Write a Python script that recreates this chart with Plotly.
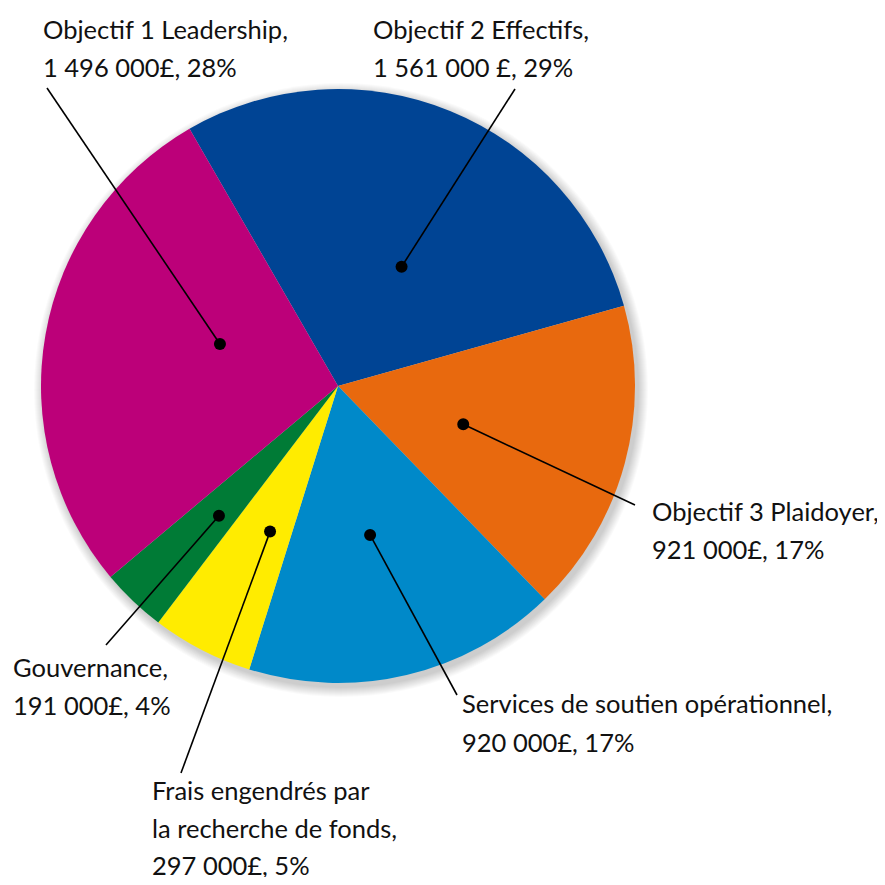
import math
import plotly.graph_objects as go

# ---- data ----
categories = ["Objectif 2 Effectifs", "Objectif 3 Plaidoyer",
              "Services de soutien opérationnel", "Frais engendrés par la recherche de fonds",
              "Gouvernance", "Objectif 1 Leadership"]
values = [1561000, 921000, 920000, 297000, 191000, 1496000]
label_lines = [
    ["Objectif 2 Effectifs,", "1 561 000 £, 29%"],
    ["Objectif 3 Plaidoyer,", "921 000£, 17%"],
    ["Services de soutien opérationnel,", "920 000£, 17%"],
    ["Frais engendrés par", "la recherche de fonds,", "297 000£, 5%"],
    ["Gouvernance,", "191 000£, 4%"],
    ["Objectif 1 Leadership,", "1 496 000£, 28%"],
]

# ---- style / layout (window pixel coordinates) ----
colors = ["#004494", "#E8690E", "#0089C9", "#FFEC00", "#007B36", "#BC0079"]
OFF = 8            # page body margin
FW = FH = 885 - 2 * OFF
CX, CY, R = 338.0, 386.0, 297.0
ROTATION = -30.0
dot_angle_offset = [5.9, 1.9, 1.2, -2.3, -1.1, 9.6]
dot_radius_frac = [0.455, 0.441, 0.513, 0.541, 0.593, 0.422]
label_pos = [  # (x left, y of first line centre)
    (371, 29), (650, 511), (460, 703), (150, 790), (11, 667), (41, 29)]
line_gap = [38, 38, 39, 37.7, 38, 38]
leader_end = [(515, 89), (635, 505), (457, 695), (181, 773), (106, 645), (47, 88)]
FONT = "Lato"
FS = 25.5


def fx(x):
    return x - OFF


def fy(y):
    return y - OFF


fig = go.Figure()

cx, cy = fx(CX), fy(CY)
fig.add_trace(go.Pie(
    labels=categories, values=values, sort=False, direction="clockwise",
    rotation=ROTATION, marker=dict(colors=colors, line=dict(width=0)),
    textinfo="none", hoverinfo="label+value+percent", showlegend=False,
    domain=dict(x=[(cx - R) / FW, (cx + R) / FW], y=[(FH - cy - R) / FH, (FH - cy + R) / FH]),
))

shapes = []
# soft drop shadow behind the pie
for k in range(10, 0, -1):
    shapes.append(dict(type="circle", xref="x", yref="y", layer="below",
                       x0=cx + 3 - R - k, x1=cx + 3 + R + k, y0=cy + 4 - R - k, y1=cy + 4 + R + k,
                       fillcolor="rgba(0,0,0,0.018)", line=dict(width=0)))

# dots and leader lines derived from the slice angles
total = sum(values)
start = ROTATION
DOT_R = 6
for i, v in enumerate(values):
    span = v / total * 360.0
    mid = start + span / 2 + dot_angle_offset[i]
    start += span
    r = R * dot_radius_frac[i]
    px = cx + r * math.sin(math.radians(mid))
    py = cy - r * math.cos(math.radians(mid))
    shapes.append(dict(type="line", xref="x", yref="y", layer="above",
                       x0=px, y0=py, x1=fx(leader_end[i][0]), y1=fy(leader_end[i][1]),
                       line=dict(color="black", width=1.6)))
    shapes.append(dict(type="circle", xref="x", yref="y", layer="above",
                       x0=px - DOT_R, x1=px + DOT_R, y0=py - DOT_R, y1=py + DOT_R,
                       fillcolor="black", line=dict(width=0)))

annotations = []
for i, lines in enumerate(label_lines):
    x0, y0 = label_pos[i]
    for j, t in enumerate(lines):
        annotations.append(dict(x=fx(x0), y=fy(y0 + j * line_gap[i]), xref="x", yref="y", text=t,
                                showarrow=False, xanchor="left", yanchor="middle",
                                font=dict(family=FONT, size=FS, color="#111111")))

fig.update_layout(
    width=FW, height=FH, margin=dict(l=0, r=0, t=0, b=0),
    paper_bgcolor="white", plot_bgcolor="rgba(0,0,0,0)",
    xaxis=dict(range=[0, FW], visible=False, fixedrange=True),
    yaxis=dict(range=[FH, 0], visible=False, fixedrange=True),
    annotations=annotations, shapes=shapes,
)

fig.write_html("out.html")
